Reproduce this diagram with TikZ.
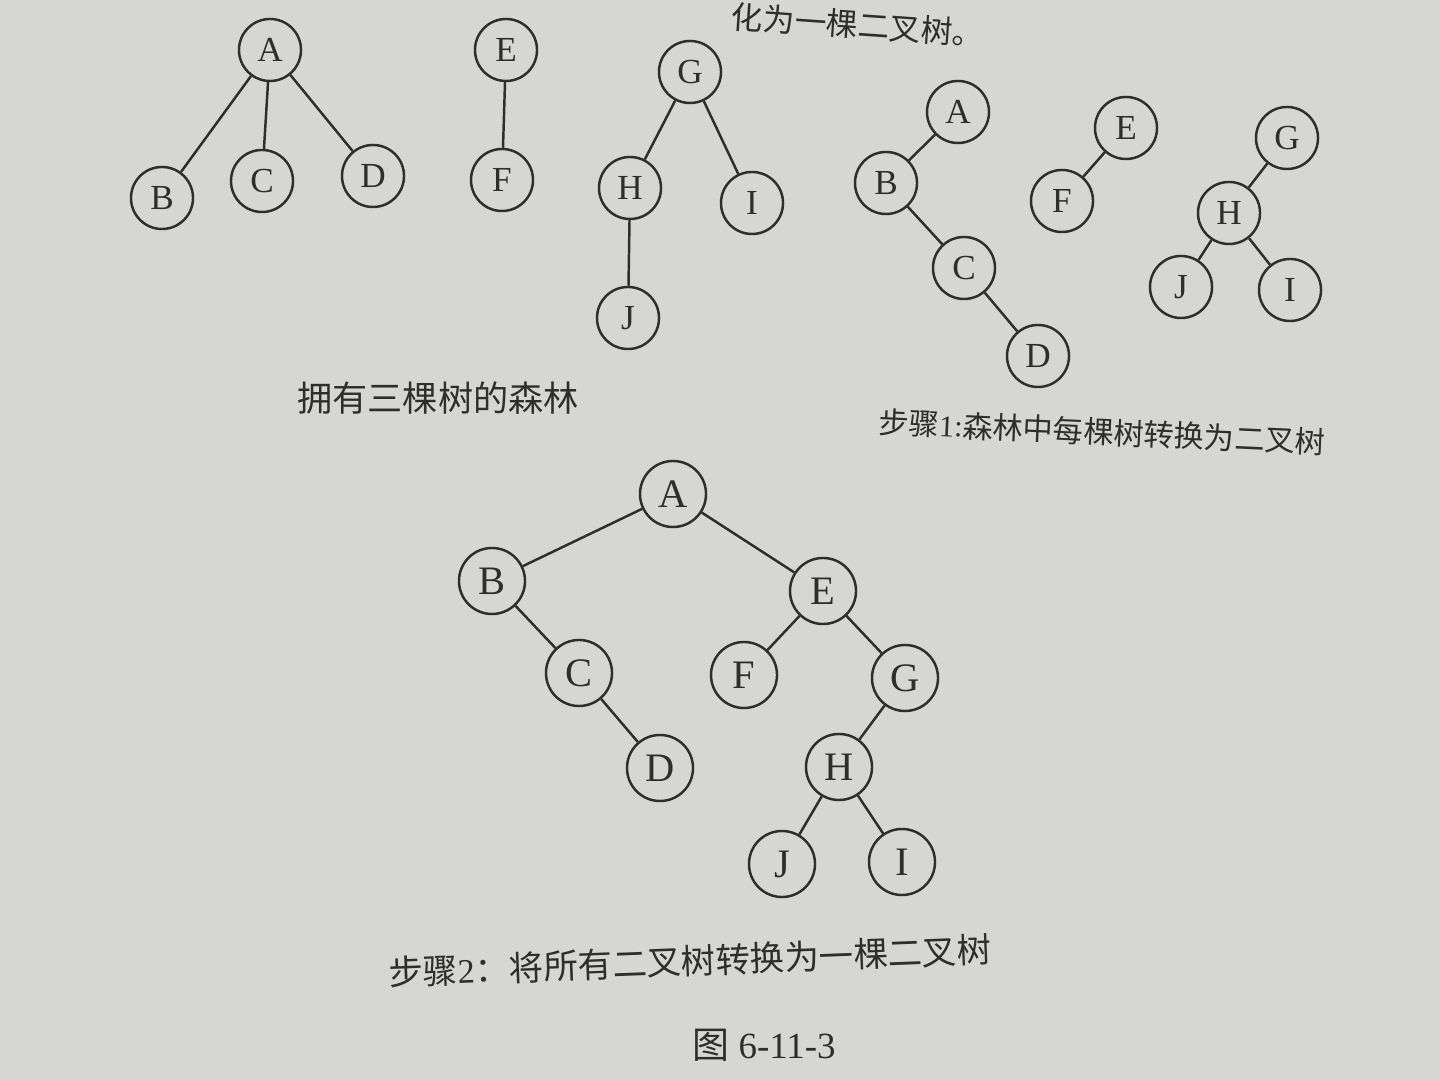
\documentclass[tikz,border=0pt]{standalone}
\usepackage{fontspec}
\setmainfont{Liberation Serif}
\newfontfamily\cjk{Noto Sans CJK SC}
\definecolor{paper}{HTML}{D6D6D4}
\definecolor{ink}{HTML}{2E2E2E}
\begin{document}
\begin{tikzpicture}[x=0.01cm,y=-0.01cm,
  tn/.style={circle,draw=ink,line width=0.7pt,fill=paper,minimum size=0.62cm,inner sep=0pt,text=ink,font=\fontsize{10}{10}\selectfont},
  tnb/.style={tn,minimum size=0.66cm,font=\fontsize{11.5}{11.5}\selectfont},
  ed/.style={draw=ink,line width=0.7pt},
  lab/.style={text=ink,inner sep=0pt}]
\fill[paper] (0,0) rectangle (1440,1080);
\useasboundingbox (0,0) rectangle (1440,1080);
% partial top text
\node[lab,font=\cjk\fontsize{9}{9}\selectfont,rotate=-4] (top) at (858,25) {化为一棵二叉树。};
% forest
\node[tn] (a1) at (270,50) {A};
\node[tn] (b1) at (162,198) {B};
\node[tn] (c1) at (262,181) {C};
\node[tn] (d1) at (373,176) {D};
\node[tn] (e1) at (506,50) {E};
\node[tn] (f1) at (502,180) {F};
\node[tn] (g1) at (690,72) {G};
\node[tn] (h1) at (630,188) {H};
\node[tn] (i1) at (752,203) {I};
\node[tn] (j1) at (628,318) {J};
\draw[ed] (a1)--(b1) (a1)--(c1) (a1)--(d1) (e1)--(f1) (g1)--(h1) (g1)--(i1) (h1)--(j1);
\node[lab,font=\cjk\fontsize{10}{10}\selectfont] (l1) at (438,398) {拥有三棵树的森林};
% step 1
\node[tn] (a2) at (958,112) {A};
\node[tn] (b2) at (886,183) {B};
\node[tn] (c2) at (964,268) {C};
\node[tn] (d2) at (1038,356) {D};
\node[tn] (e2) at (1126,128) {E};
\node[tn] (f2) at (1062,201) {F};
\node[tn] (g2) at (1287,138) {G};
\node[tn] (h2) at (1229,213) {H};
\node[tn] (j2) at (1181,287) {J};
\node[tn] (i2) at (1290,290) {I};
\draw[ed] (a2)--(b2) (b2)--(c2) (c2)--(d2) (e2)--(f2) (g2)--(h2) (h2)--(j2) (h2)--(i2);
\node[lab,font=\fontsize{8.6}{8.6}\selectfont,rotate=-2.6] (l2) at (1102,432) {\cjk 步骤\rmfamily 1:\cjk 森林中每棵树转换为二叉树};
% step 2
\node[tnb] (a3) at (673,494) {A};
\node[tnb] (b3) at (492,581) {B};
\node[tnb] (c3) at (579,673) {C};
\node[tnb] (d3) at (660,768) {D};
\node[tnb] (e3) at (823,591) {E};
\node[tnb] (f3) at (744,675) {F};
\node[tnb] (g3) at (905,678) {G};
\node[tnb] (h3) at (839,767) {H};
\node[tnb] (j3) at (782,864) {J};
\node[tnb] (i3) at (902,862) {I};
\draw[ed] (a3)--(b3) (b3)--(c3) (c3)--(d3) (a3)--(e3) (e3)--(f3) (e3)--(g3) (g3)--(h3) (h3)--(j3) (h3)--(i3);
\node[lab,font=\fontsize{9.8}{9.8}\selectfont,rotate=2.2] (l3) at (690,961) {\cjk 步骤\rmfamily 2\cjk ：将所有二叉树转换为一棵二叉树};
\node[lab,font=\fontsize{10.5}{10.5}\selectfont] (cap) at (764,1045) {\cjk 图\rmfamily\ 6-11-3};
\end{tikzpicture}
\end{document}
